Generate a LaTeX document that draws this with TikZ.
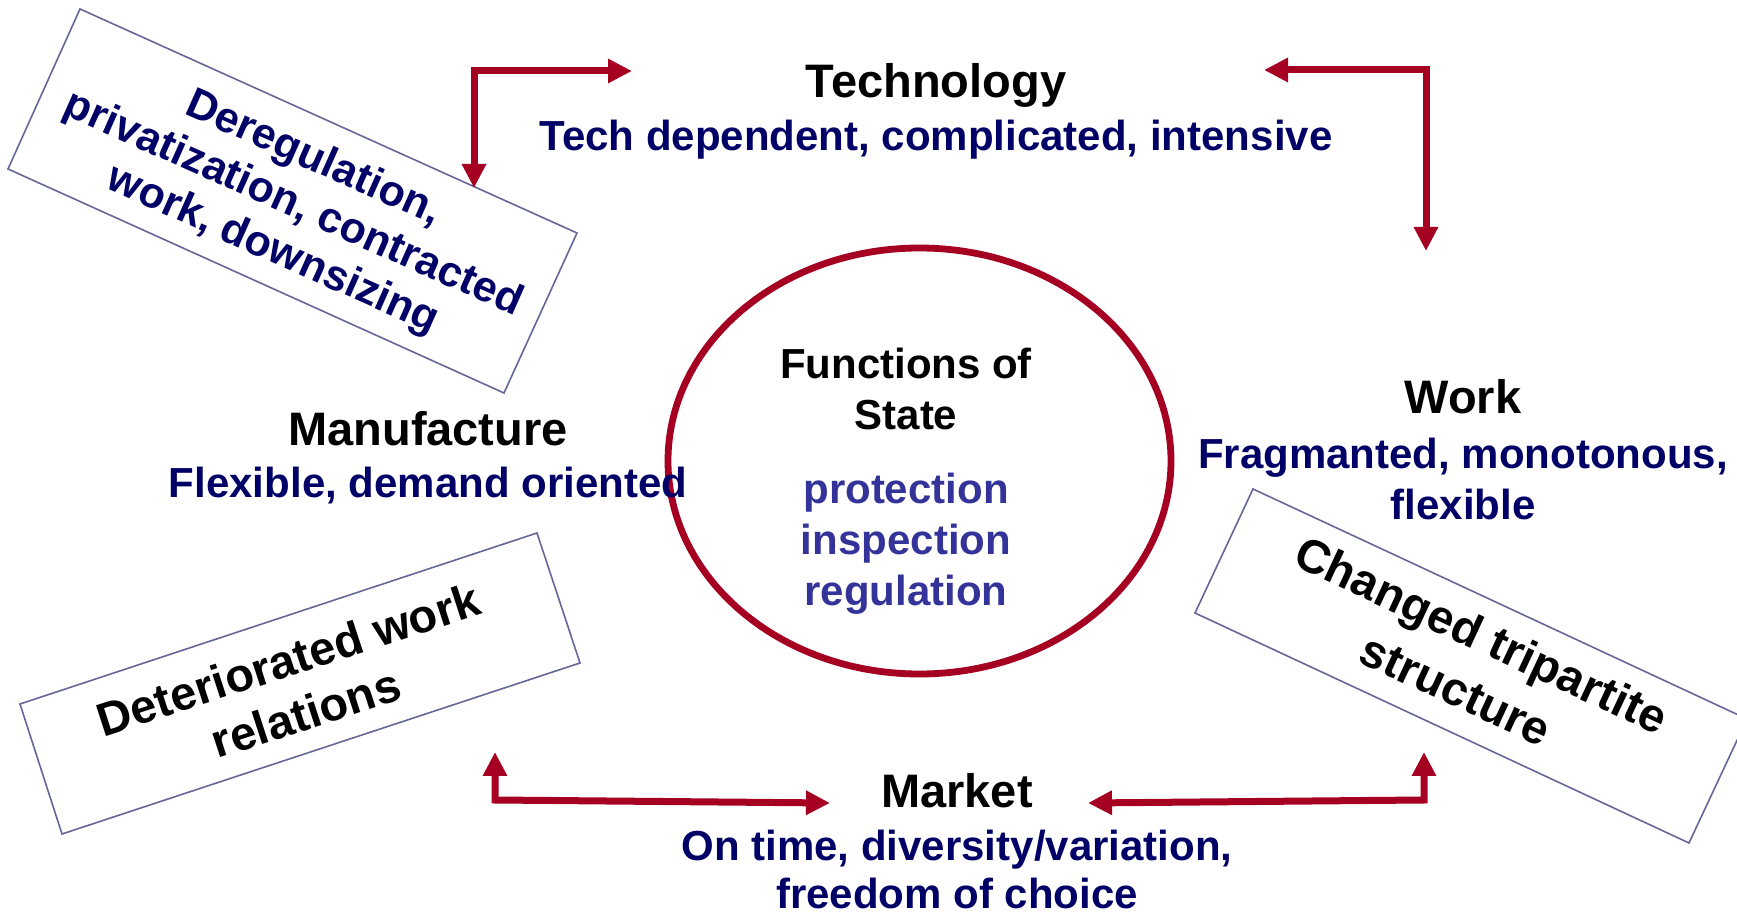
\documentclass[tikz,border=0pt]{standalone}
\usepackage{fontspec}
\setmainfont{Liberation Sans}
\usetikzlibrary{arrows.meta}

\definecolor{arrowred}{HTML}{A50021}
\definecolor{navytext}{HTML}{000066}
\definecolor{statetext}{HTML}{333399}
\definecolor{boxline}{HTML}{666699}

\tikzset{every picture/.style={line width=0.75pt}}
\tikzset{
  link/.style={draw=arrowred, line width=3.5pt, line join=miter,
    {Triangle[length=12pt,width=11.5pt]}-{Triangle[length=12pt,width=11.5pt]}},
  tiltbox/.style={draw=boxline, line width=0.8pt},
  headtext/.style={anchor=base, font=\bfseries\fontsize{23.5}{28}\selectfont, text=black},
  subtext/.style={anchor=base, font=\bfseries\fontsize{21}{25}\selectfont, text=navytext},
  statefn/.style={anchor=base, font=\bfseries\fontsize{21}{25}\selectfont, text=statetext},
}

\begin{document}
\begin{tikzpicture}[x=0.5pt,y=0.5pt,yscale=-1,xscale=1]
\useasboundingbox (0,0) rectangle (1737,914);

%Ellipse
\draw [draw=arrowred, line width=3.4pt] (919.5,461) ellipse (251.5 and 213);

%Rotated boxes
\draw [tiltbox] (80,9) -- (577,233) -- (504,393) -- (8,169) -- cycle ;
\draw [tiltbox] (20,704) -- (537,533) -- (580,663) -- (62,834) -- cycle ;
\draw [tiltbox] (1253,489) -- (1747,719) -- (1689,843) -- (1195,613) -- cycle ;

% Text Node
\node [headtext] (tech) at (936,98) {Technology};
\node [subtext] (techsub) at (936,151) {Tech dependent, complicated, intensive};
% Text Node
\node [headtext, font=\bfseries\fontsize{21}{25}\selectfont] (fnof) at (906,379) {Functions of};
\node [headtext, font=\bfseries\fontsize{21}{25}\selectfont] (state) at (906,430) {State};
\node [statefn] (prot) at (906,504) {protection};
\node [statefn] (insp) at (906,555) {inspection};
\node [statefn] (regu) at (906,606) {regulation};
% Text Node
\node [headtext] (manu) at (428,446) {Manufacture};
\node [subtext] (manusub) at (428,498) {Flexible, demand oriented};
% Text Node
\node [headtext] (work) at (1463,414) {Work};
\node [subtext] (worksub) at (1463,469) {Fragmanted, monotonous,};
\node [subtext] (worksub2) at (1463,520) {flexible};
% Text Node
\node [headtext] (market) at (957,807) {Market};
\node [subtext] (marketsub) at (957,860) {On time, diversity/variation,};
\node [subtext] (marketsub2) at (957,908) {freedom of choice};

% Box Text
\node [align=center, rotate=-24, text=navytext, font=\bfseries\fontsize{21.5}{25}\selectfont] (dereg) at (293,205)
  {Deregulation,\\privatization, contracted\\work, downsizing};
\node [align=center, rotate=18, font=\bfseries\fontsize{23.5}{28}\selectfont] (deter) at (297,686)
  {Deteriorated work\\relations};
\node [align=center, rotate=-25, font=\bfseries\fontsize{23.5}{30}\selectfont] (tripart) at (1469,662)
  {Changed tripartite\\structure};

%Arrow ends
\coordinate (tl-tip) at (474,188);
\coordinate (tl-end) at (632,71);
\coordinate (tr-tip) at (1264,70);
\coordinate (tr-end) at (1426,251);
\coordinate (bl-tip) at (495,752);
\coordinate (bl-end) at (830,803);
\coordinate (br-tip) at (1088,803);
\coordinate (br-end) at (1424,752);

\draw [link] (tl-tip) |- (tl-end);
\draw [link] (tr-tip) -| (tr-end);
\draw [link] (bl-tip) -- (495,800) -- (bl-end);
\draw [link] (br-tip) -- (1424,800) -- (br-end);

\end{tikzpicture}
\end{document}
